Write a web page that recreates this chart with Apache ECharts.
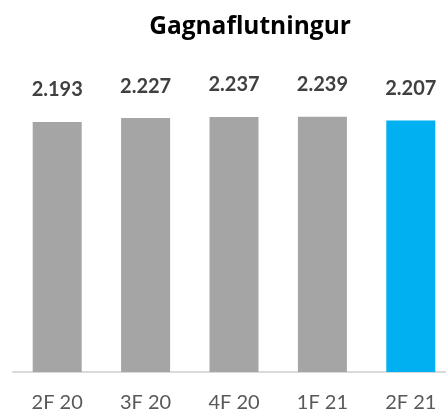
<!DOCTYPE html>
<html><head><meta charset="utf-8">
<script src="https://cdn.jsdelivr.net/npm/echarts@6/dist/echarts.min.js"></script>
<style>html,body{margin:0;padding:0;background:#fff;overflow:hidden}#c{width:455px;height:415px}</style>
</head><body><div id="c"></div>
<script>
const categories = ['2F 20', '3F 20', '4F 20', '1F 21', '2F 21'];
const values = [2193, 2227, 2237, 2239, 2207];
const barColors = ['#a5a5a5', '#a5a5a5', '#a5a5a5', '#a5a5a5', '#00b0f0'];
const titleText = 'Gagnaflutningur';

const fmt = v => { const s = String(v); return s.slice(0, s.length - 3) + '.' + s.slice(-3); };
const chart = echarts.init(document.getElementById('c'), null, {renderer: 'canvas'});
chart.setOption({
  animation: false,
  title: {
    text: titleText, left: 245, top: 10, textAlign: 'center',
    textStyle: {fontFamily: 'Open Sans', fontWeight: 'bold', fontSize: 24.5, color: '#000'}
  },
  grid: {left: 13, right: 0, top: 87, bottom: 43, containLabel: false},
  xAxis: {
    type: 'category', data: categories,
    axisLine: {lineStyle: {color: '#d9d9d9', width: 2}},
    axisTick: {show: false},
    axisLabel: {color: '#595959', fontFamily: 'Lato', fontSize: 20, margin: 21}
  },
  yAxis: {type: 'value', min: 0, max: 2500, show: false, splitLine: {show: false}},
  series: [{
    type: 'bar', barWidth: 49,
    data: values.map((v, i) => ({value: v, itemStyle: {color: barColors[i]}})),
    label: {
      show: true, position: 'top', distance: 22,
      formatter: p => fmt(p.value),
      fontFamily: 'Lato', fontWeight: 'bold', fontSize: 20, color: '#404040'
    }
  }]
});
</script></body></html>
